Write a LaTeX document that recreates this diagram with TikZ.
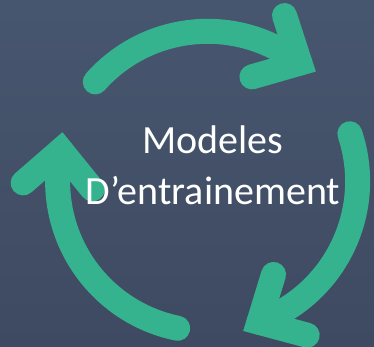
\documentclass[tikz,border=0pt]{standalone}
\usepackage{fontspec}
\setmainfont{Carlito}
\usetikzlibrary{calc}
\definecolor{slatetop}{HTML}{47566F}
\definecolor{slatebot}{HTML}{3E4A61}
\definecolor{cyclegreen}{HTML}{35B38F}
\tikzset{
  cyclearc/.style={line width=25pt, draw=cyclegreen, line cap=round},
  cyclehead/.style={cyclearc, line join=miter},
  centretext/.style={align=center, text=white, inner sep=0pt,
    font=\fontsize{40}{51}\selectfont}
}

\begin{document}
\begin{tikzpicture}[x=1pt,y=1pt]
  \shade[top color=slatetop, bottom color=slatebot] (0,0) rectangle (374,346);
  \useasboundingbox (0,0) rectangle (374,346);
  \coordinate (c) at (207.6,164.7);
  % three arcs, each with a chevron head
  \foreach \sa/\ea/\tp [count=\i] in {138.5/52/-28, 18.5/-70/-151, -101.5/-192/85} {
    \coordinate (tip\i) at ($(c)+(\ea:150)$);
    \draw[cyclearc] ($(c)+(\sa:150)$) arc[start angle=\sa, end angle=\ea, radius=150];
    \draw[cyclehead] ([shift={(\tp+136:50)}]tip\i) -- (tip\i) -- ([shift={(\tp+224:50)}]tip\i);
  }
  \node[centretext] (title) at (213,180.5) {Modeles\\D’entrainement};
\end{tikzpicture}
\end{document}
